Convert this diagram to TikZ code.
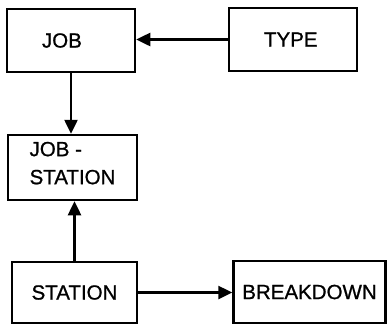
\documentclass[tikz,border=0pt]{standalone}
\usepackage{fontspec}
\setmainfont{Liberation Sans}
\newfontfamily\lab{Liberation Sans}[FakeBold=0.9]
\usetikzlibrary{arrows.meta}
\begin{document}
\begin{tikzpicture}[x=1pt,y=1pt,
  box/.style={draw, line width=2.5pt, inner sep=0pt, font=\lab\fontsize{20.5}{28}\selectfont},
  arr/.style={line width=2.5pt, -{Triangle[length=14pt,width=13pt]}}]
\useasboundingbox (0,0) rectangle (387,-325);
\node[box, minimum width=128pt, minimum height=63pt, text width=58pt, align=left] (job) at (71,-40.5) {JOB};
\node[box, minimum width=128pt, minimum height=63pt, text width=58pt, align=left] (type) at (293,-39.5) {TYPE};
\node[box, minimum width=129pt, minimum height=65pt, align=left] (js) at (72.5,-167.5) {JOB -\\STATION\rule[-9pt]{0pt}{0pt}};
\node[box, minimum width=125pt, minimum height=61pt] (station) at (74.5,-292.5) {STATION};
\node[box, minimum width=152pt, minimum height=62pt] (breakdown) at (309.5,-292) {BREAKDOWN};
\draw[arr] (type.west) -- (job.east |- type.west);
\draw[arr] (job.south) -- (job.south |- js.north);
\draw[arr] (station.north) -- (station.north |- js.south);
\draw[arr] (station.east) -- (breakdown.west |- station.east);
\end{tikzpicture}
\end{document}
